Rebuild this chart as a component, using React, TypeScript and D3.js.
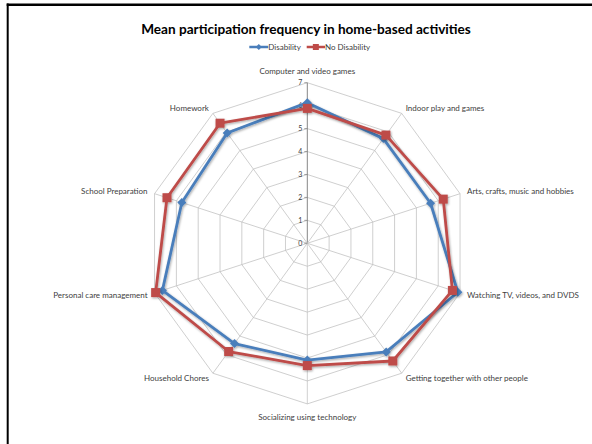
import React from "react";
import * as d3 from "d3";

const categories = [
  "Computer and video games",
  "Indoor play and games",
  "Arts, crafts, music and hobbies",
  "Watching TV, videos, and DVDS",
  "Getting together with other people",
  "Socializing using technology",
  "Household Chores",
  "Personal care management",
  "School Preparation",
  "Homework",
];

const disability = [6.13, 5.64, 5.65, 6.9, 5.85, 5.09, 5.4, 6.64, 5.75, 5.94];
const noDisability = [5.88, 5.83, 6.23, 6.65, 6.34, 5.33, 5.83, 6.95, 6.43, 6.47];

const ticks = [0, 1, 2, 3, 4, 5, 6, 7];

const seriesNames = ["Disability", "No Disability"];
const seriesColors = ["#4a7ebb", "#be4b48"];

const W = 592;
const H = 444;
const cx = 307.3;
const cy = 243.3;
const R = 160.6;
const FONT = "Lato, 'Liberation Sans', sans-serif";

export default function App() {
  const r = d3.scaleLinear().domain([0, 7]).range([0, R]);
  const angle = d3
    .scaleLinear()
    .domain([0, categories.length])
    .range([0, 2 * Math.PI]);

  const pt = (i: number, v: number): [number, number] => {
    const a = angle(i);
    return [cx + r(v) * Math.sin(a), cy - r(v) * Math.cos(a)];
  };

  const ring = (v: number) =>
    d3.line()(categories.map((_, i) => pt(i, v)).concat([pt(0, v)])) as string;

  const lineGen = d3
    .line<number>()
    .x((v, i) => pt(i, v)[0])
    .y((v, i) => pt(i, v)[1])
    .curve(d3.curveLinearClosed);

  const series = [disability, noDisability];

  const labelProps = (i: number) => {
    const [ex, ey] = pt(i, 7);
    const a = angle(i);
    const s = Math.sin(a);
    const c = Math.cos(a);
    if (Math.abs(s) < 0.01) {
      return { x: ex, y: c > 0 ? ey - 12 : ey + 13, anchor: "middle" };
    }
    const anchor = s > 0 ? "start" : "end";
    const dx = s > 0 ? (Math.abs(s) > 0.9 ? 7 : 4) : Math.abs(s) > 0.9 ? -7 : -4;
    const dy = Math.abs(s) > 0.9 ? (c > 0 ? -2 : 2) : c > 0 ? -5 : 5;
    return { x: ex + dx, y: ey + dy, anchor };
  };

  return (
    <svg
      width={W}
      height={H}
      style={{ position: "absolute", left: 0, top: 0, background: "#fff" }}
      fontFamily={FONT}
    >
      <defs>
        <filter id="shadow" x="-20%" y="-20%" width="140%" height="140%">
          <feDropShadow dx="0.8" dy="1.2" stdDeviation="0.9" floodColor="#000" floodOpacity="0.35" />
        </filter>
      </defs>
      <rect x={0} y={0} width={W} height={H} fill="#fff" />
      {/* frame */}
      <line x1={6.7} y1={4.8} x2={W} y2={4.8} stroke="#000" strokeWidth={2.4} />
      <line x1={7.7} y1={3.6} x2={7.7} y2={H} stroke="#000" strokeWidth={2} />

      <text
        x={306}
        y={34}
        textAnchor="middle"
        fontSize={13.6}
        fontWeight="bold"
        fill="#000"
      >
        Mean participation frequency in home-based activities
      </text>

      {/* legend */}
      {seriesNames.map((name, k) => {
        const x0 = k === 0 ? 249.3 : 306.7;
        const x1 = k === 0 ? 268.3 : 325;
        const ym = 47;
        const mx = (x0 + x1) / 2;
        return (
          <g key={name}>
            <line x1={x0} y1={ym} x2={x1} y2={ym} stroke={seriesColors[k]} strokeWidth={2.5} />
            {k === 0 ? (
              <path d={`M${mx},${ym - 3}L${mx + 3},${ym}L${mx},${ym + 3}L${mx - 3},${ym}Z`} fill={seriesColors[k]} />
            ) : (
              <rect x={mx - 3} y={ym - 3} width={6} height={6} fill={seriesColors[k]} />
            )}
            <text x={x1} y={ym} dy="0.35em" fontSize={8} fill="#404040">
              {name}
            </text>
          </g>
        );
      })}

      {/* grid rings */}
      {ticks.slice(1).map((t) => (
        <path key={t} d={ring(t)} fill="none" stroke="#bfbfbf" strokeWidth={0.75} />
      ))}
      {/* spokes */}
      {categories.map((c, i) => {
        const [x, y] = pt(i, 7);
        return (
          <line
            key={c}
            x1={cx}
            y1={cy}
            x2={x}
            y2={y}
            stroke={i === 0 ? "#868686" : "#bfbfbf"}
            strokeWidth={i === 0 ? 1 : 0.75}
          />
        );
      })}
      {/* value axis ticks */}
      {ticks.map((t) => (
        <g key={t}>
          <line x1={cx - 3} y1={cy - r(t)} x2={cx} y2={cy - r(t)} stroke="#868686" strokeWidth={0.75} />
          <text
            x={cx - 5}
            y={cy - r(t)}
            dy="0.35em"
            textAnchor="end"
            fontSize={7}
            fill="#404040"
          >
            {t}
          </text>
        </g>
      ))}

      {/* category labels */}
      {categories.map((c, i) => {
        const lp = labelProps(i);
        return (
          <text
            key={c}
            x={lp.x}
            y={lp.y}
            dy="0.35em"
            textAnchor={lp.anchor as any}
            fontSize={8}
            fill="#404040"
          >
            {c}
          </text>
        );
      })}

      {/* series */}
      {series.map((vals, k) => (
        <g key={k} filter="url(#shadow)">
          <path d={lineGen(vals) as string} fill="none" stroke={seriesColors[k]} strokeWidth={2.8} strokeLinejoin="round" />
          {vals.map((v, i) => {
            const [x, y] = pt(i, v);
            return k === 0 ? (
              <path
                key={i}
                d={`M${x},${y - 4.5}L${x + 4.5},${y}L${x},${y + 4.5}L${x - 4.5},${y}Z`}
                fill={seriesColors[k]}
              />
            ) : (
              <rect key={i} x={x - 4.5} y={y - 4.5} width={9} height={9} fill={seriesColors[k]} />
            );
          })}
        </g>
      ))}
    </svg>
  );
}
